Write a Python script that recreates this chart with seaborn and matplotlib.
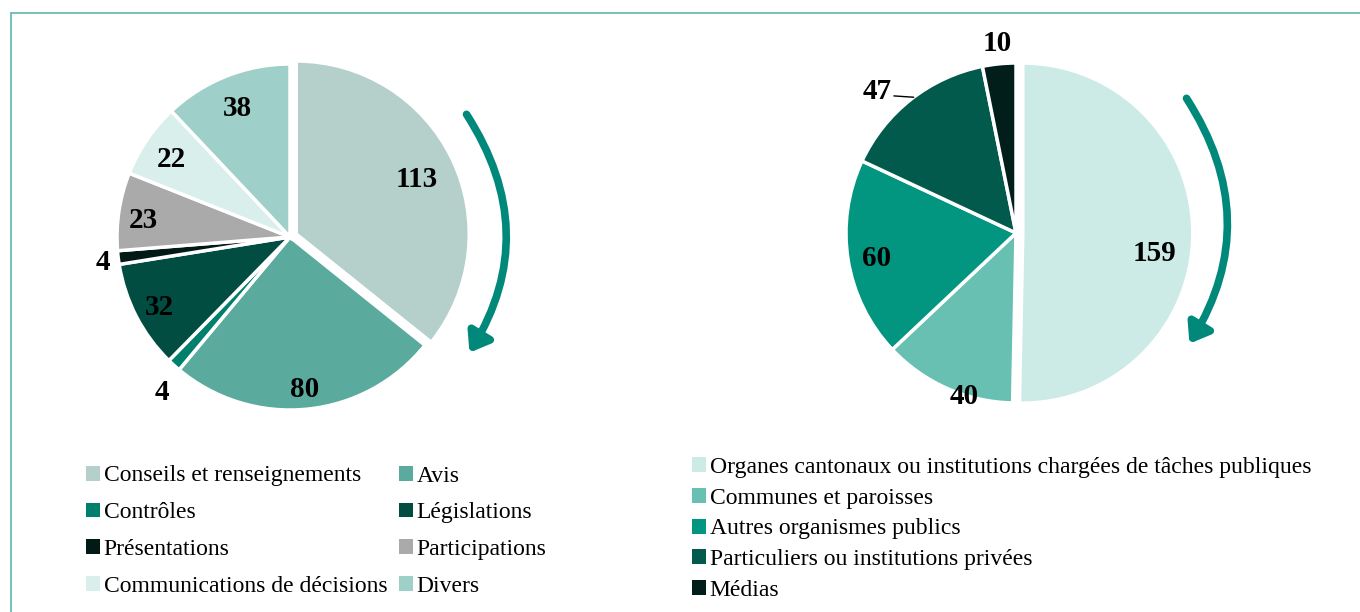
import numpy as np
import matplotlib
matplotlib.use("Agg")
import matplotlib.pyplot as plt
import seaborn as sns
from matplotlib.patches import Patch, FancyArrowPatch
from matplotlib.lines import Line2D

sns.set_theme(style="white")
plt.rcParams['font.family'] = ['Liberation Serif', 'DejaVu Serif']
plt.rcParams['text.color'] = 'black'

# left pie: type of work
work_labels = ["Conseils et renseignements", "Avis", "Contrôles", "Législations",
               "Présentations", "Participations", "Communications de décisions", "Divers"]
work_values = [113, 80, 4, 32, 4, 23, 22, 38]
work_colors = ["#B5D0CB", "#5BAA9E", "#00806C", "#024D42",
               "#021A16", "#AAAAAA", "#D9EFEC", "#9ECFC8"]

# right pie: who asked
src_labels = ["Organes cantonaux ou institutions chargées de tâches publiques",
              "Communes et paroisses", "Autres organismes publics",
              "Particuliers ou institutions privées", "Médias"]
src_values = [159, 40, 60, 47, 10]
src_colors = ["#CDEBE6", "#68C0B3", "#02957F", "#025A4D", "#021E1A"]

W, H = 1360, 612
fig = plt.figure(figsize=(13.6, 6.12), dpi=100)


def px_axes(cx, cy, r):
    # pie() uses limits of +-1.25 radius
    s = 2.5 * r
    return fig.add_axes([(cx - s / 2) / W, (H - cy - s / 2) / H, s / W, s / H])


def draw_pie(ax, values, colors, explode, dist, shift):
    wedges, _ = ax.pie(values, colors=colors, startangle=90, counterclock=False,
                       explode=explode,
                       wedgeprops=dict(edgecolor="white", linewidth=2.5))
    for w, v, d, s in zip(wedges, values, dist, shift):
        a = np.deg2rad((w.theta1 + w.theta2) / 2 + s)
        cx, cy = w.center
        ax.text(cx + d * np.cos(a), cy + d * np.sin(a), str(v),
                ha="center", va="center_baseline", fontsize=21, fontweight="bold",
                color="black", clip_on=False)
    ax.set_aspect("equal")
    return wedges


ax1 = px_axes(290, 237, 173)
draw_pie(ax1, work_values, work_colors,
         [0.04, 0, 0, 0, 0, 0, 0, 0],
         [0.77, 0.87, 1.15, 0.85, 1.09, 0.855, 0.83, 0.82],
         [0, 0, 2, 0, 0, 1, 0, 0])

ax2 = px_axes(1016, 233, 170)
draw_pie(ax2, src_values, src_colors,
         [0.04, 0, 0, 0, 0],
         [0.78, 0.99, 0.83, 1.18, 1.14],
         [-7, 6, 0, 5.7, 0])
# leader line for the 47 label
a0 = np.deg2rad(127)
a1 = np.deg2rad(131.7)
ax2.plot([np.cos(a0), 1.08 * np.cos(a1)], [np.sin(a0), 1.08 * np.sin(a1)],
         color="black", lw=1, clip_on=False)

# curved arrows
arrow_col = "#00897B"
for (x0, y0), (x1, y1) in [((465, 112), (468, 355)), ((1185, 96), (1188, 346))]:
    arr = FancyArrowPatch((x0 / W, 1 - y0 / H), (x1 / W, 1 - y1 / H),
                          transform=fig.transFigure,
                          connectionstyle="arc3,rad=-0.32",
                          arrowstyle="-|>,head_length=0.55,head_width=0.4",
                          mutation_scale=20, lw=5.5, color=arrow_col,
                          capstyle="round")
    fig.add_artist(arr)

# legends
order = [0, 2, 4, 6, 1, 3, 5, 7]
h1 = [Patch(facecolor=work_colors[i], edgecolor="none", label=work_labels[i]) for i in order]
fig.legend(handles=h1, ncol=2, loc="upper left", bbox_to_anchor=(86 / W, 1 - 465.5 / H),
           frameon=False, fontsize=17, borderpad=0, borderaxespad=0,
           handlelength=0.6, handleheight=0.6, handletextpad=0.15,
           labelspacing=0.67, columnspacing=0.5)

h2 = [Patch(facecolor=c, edgecolor="none", label=l) for c, l in zip(src_colors, src_labels)]
fig.legend(handles=h2, ncol=1, loc="upper left", bbox_to_anchor=(692 / W, 1 - 457 / H),
           frameon=False, fontsize=17, borderpad=0, borderaxespad=0,
           handlelength=0.6, handleheight=0.6, handletextpad=0.15,
           labelspacing=0.41)

# frame lines (top and left)
frame_col = "#5DB7AF"
fig.add_artist(Line2D([11 / W, 1], [1 - 13 / H, 1 - 13 / H], color=frame_col, lw=1.2,
                      transform=fig.transFigure))
fig.add_artist(Line2D([11 / W, 11 / W], [1 - 13 / H, 0], color=frame_col, lw=1.2,
                      transform=fig.transFigure))

fig.savefig("out.png", dpi=100, facecolor="white")
